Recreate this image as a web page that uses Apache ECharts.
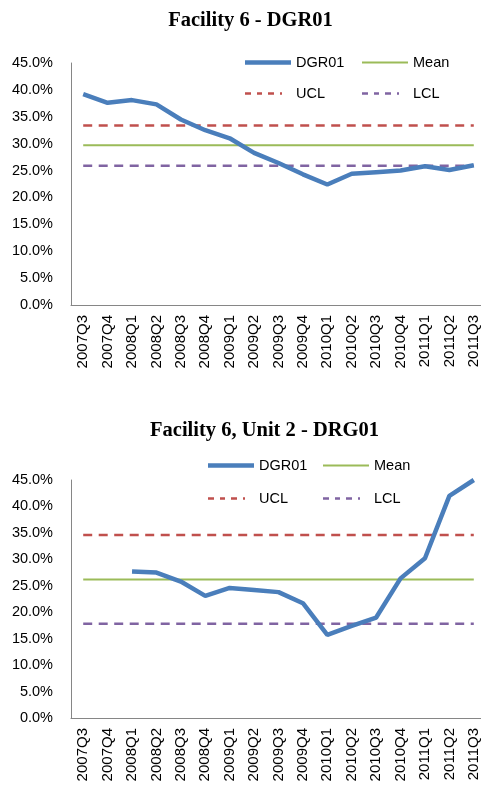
<!DOCTYPE html>
<html><head><meta charset="utf-8">
<script src="https://cdn.jsdelivr.net/npm/echarts@6/dist/echarts.min.js"></script>
<style>html,body{margin:0;padding:0;background:#fff}#c{width:481px;height:786px}</style>
</head><body><div id="c"></div>
<script>
const categories = ['2007Q3','2007Q4','2008Q1','2008Q2','2008Q3','2008Q4','2009Q1','2009Q2','2009Q3','2009Q4','2010Q1','2010Q2','2010Q3','2010Q4','2011Q1','2011Q2','2011Q3'];
const yTicks = [0,5,10,15,20,25,30,35,40,45];

const c1Values = [39.2,37.6,38.1,37.3,34.5,32.5,31.0,28.3,26.4,24.3,22.4,24.4,24.7,25.0,25.8,25.1,26.0];
const c1Mean   = [29.7,29.7,29.7,29.7,29.7,29.7,29.7,29.7,29.7,29.7,29.7,29.7,29.7,29.7,29.7,29.7,29.7];
const c1UCL    = [33.4,33.4,33.4,33.4,33.4,33.4,33.4,33.4,33.4,33.4,33.4,33.4,33.4,33.4,33.4,33.4,33.4];
const c1LCL    = [25.9,25.9,25.9,25.9,25.9,25.9,25.9,25.9,25.9,25.9,25.9,25.9,25.9,25.9,25.9,25.9,25.9];

const c2Values = [null,null,27.7,27.5,25.8,23.1,24.6,24.2,23.8,21.7,15.7,17.4,19.0,26.4,30.2,42.0,45.0];
const c2Mean   = [26.2,26.2,26.2,26.2,26.2,26.2,26.2,26.2,26.2,26.2,26.2,26.2,26.2,26.2,26.2,26.2,26.2];
const c2UCL    = [34.6,34.6,34.6,34.6,34.6,34.6,34.6,34.6,34.6,34.6,34.6,34.6,34.6,34.6,34.6,34.6,34.6];
const c2LCL    = [17.8,17.8,17.8,17.8,17.8,17.8,17.8,17.8,17.8,17.8,17.8,17.8,17.8,17.8,17.8,17.8,17.8];

const title1 = 'Facility 6 - DGR01';
const title2 = 'Facility 6, Unit 2 - DRG01';

const FONT = 'Liberation Sans';
const colors = {DGR01:'#4A7EBB', Mean:'#9BBB59', UCL:'#C0504D', LCL:'#8064A2'};
const isDashed = n => (n==='UCL'||n==='LCL');

function grid(top, height){ return {left:71, top:top, height:height, width:415, containLabel:false, outerBoundsMode:'none'}; }
function xAx(i){ return {type:'category', gridIndex:i, data:categories, boundaryGap:true,
  axisLine:{lineStyle:{color:'#868686', width:1}}, axisTick:{show:false},
  axisLabel:{rotate:90, margin:10, fontFamily:FONT, fontSize:15, color:'#000', interval:0}}; }
function yAx(i){ return {type:'value', gridIndex:i, min:yTicks[0], max:yTicks[yTicks.length-1], interval:5,
  axisLine:{show:true, lineStyle:{color:'#868686', width:1}}, axisTick:{show:false}, splitLine:{show:false},
  axisLabel:{margin:18, fontFamily:FONT, fontSize:14.5, color:'#000', formatter:v=>v.toFixed(1)+'%'}}; }
function ser(name, data, i){
  return {name:name, type:'line', xAxisIndex:i, yAxisIndex:i, data:data, showSymbol:false, symbol:'none',
    connectNulls:false, animation:false, z: name==='DGR01'?5:3,
    lineStyle:{color:colors[name], width: name==='DGR01'?4.5:(isDashed(name)?2.5:2), type: isDashed(name)?[9,6.5]:'solid'},
    itemStyle:{color:colors[name]}};
}
const ICONS = {
  DGR01: 'path://M0,0H46V4.5H0Z',
  Mean:  'path://M0,0H46V2H0Z',
  UCL:   'path://M0,0H6V2.5H0Z M12,0H17V2.5H12Z M23,0H29V2.5H23Z M35,0H37V2.5H35Z M46,0L46,2.5',
  LCL:   'path://M0,0H6V2.5H0Z M12,0H17V2.5H12Z M23,0H29V2.5H23Z M35,0H37V2.5H35Z M46,0L46,2.5'
};
const ICON_H = {DGR01:4.5, Mean:2, UCL:2.5, LCL:2.5};
function leg(name, left, top){
  return {data:[name], left:left, top:top, padding:0, itemGap:0,
    icon: ICONS[name], itemWidth: 46, itemHeight: ICON_H[name],
    textStyle:{fontFamily:FONT, fontSize:14.5, color:'#000'}, selectedMode:false};
}

const chart = echarts.init(document.getElementById('c'), null, {renderer:'canvas'});
chart.setOption({
  animation:false,
  backgroundColor:'#fff',
  title:[
    {text:title1, left:250.5, top:10, padding:0, textAlign:'center', textStyle:{fontFamily:'Liberation Serif', fontWeight:'bold', fontSize:20.5, color:'#000'}},
    {text:title2, left:264.5, top:420, padding:0, textAlign:'center', textStyle:{fontFamily:'Liberation Serif', fontWeight:'bold', fontSize:20.5, color:'#000'}}
  ],
  legend:[
    leg('DGR01',245,55), leg('Mean',362,55), leg('UCL',245,86), leg('LCL',362,86),
    leg('DGR01',208,458), leg('Mean',323,458), leg('UCL',208,491), leg('LCL',323,491)
  ],
  grid:[grid(63,242), grid(480,238)],
  xAxis:[xAx(0), xAx(1)],
  yAxis:[yAx(0), yAx(1)],
  series:[
    ser('DGR01',c1Values,0), ser('Mean',c1Mean,0), ser('UCL',c1UCL,0), ser('LCL',c1LCL,0),
    ser('DGR01',c2Values,1), ser('Mean',c2Mean,1), ser('UCL',c2UCL,1), ser('LCL',c2LCL,1)
  ]
});
</script></body></html>
